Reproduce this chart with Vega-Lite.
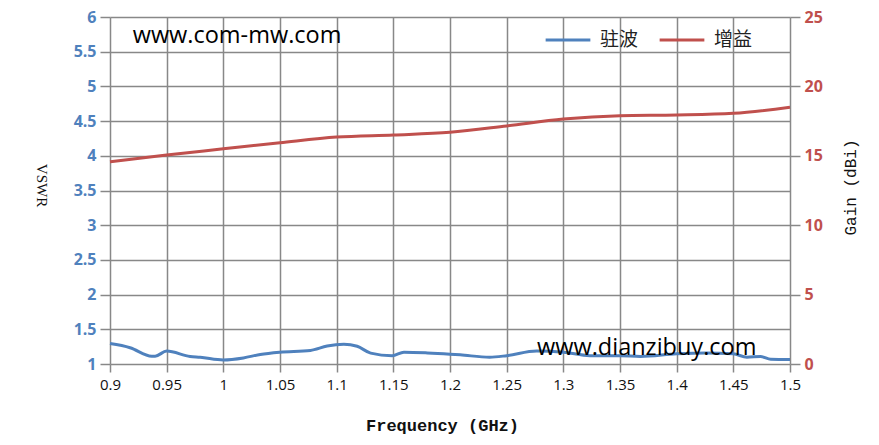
{
  "$schema": "https://vega.github.io/schema/vega-lite/v6.json",
  "autosize": {"type": "none"},
  "width": 680,
  "height": 347,
  "padding": {"left": 110, "top": 17, "right": 89, "bottom": 81},
  "background": "white",
  "config": {
    "view": {"stroke": null},
    "axis": {"gridColor": "#888888", "gridWidth": 1.5, "tickColor": "#888888", "tickWidth": 1.5, "domain": false}
  },
  "datasets": {
    "vswr": [
      {"f": 0.9, "v": 1.294, "s": "驻波"},
      {"f": 0.9177, "v": 1.235, "s": "驻波"},
      {"f": 0.9368, "v": 1.113, "s": "驻波"},
      {"f": 0.9398, "v": 1.113, "s": "驻波"},
      {"f": 0.95, "v": 1.186, "s": "驻波"},
      {"f": 0.9707, "v": 1.108, "s": "驻波"},
      {"f": 0.9796, "v": 1.098, "s": "驻波"},
      {"f": 1.0, "v": 1.059, "s": "驻波"},
      {"f": 1.0177, "v": 1.088, "s": "驻波"},
      {"f": 1.0326, "v": 1.137, "s": "驻波"},
      {"f": 1.05, "v": 1.17, "s": "驻波"},
      {"f": 1.0768, "v": 1.196, "s": "驻波"},
      {"f": 1.0916, "v": 1.26, "s": "驻波"},
      {"f": 1.1063, "v": 1.284, "s": "驻波"},
      {"f": 1.1181, "v": 1.255, "s": "驻波"},
      {"f": 1.13, "v": 1.157, "s": "驻波"},
      {"f": 1.149, "v": 1.12, "s": "驻波"},
      {"f": 1.1594, "v": 1.17, "s": "驻波"},
      {"f": 1.18, "v": 1.16, "s": "驻波"},
      {"f": 1.2, "v": 1.142, "s": "驻波"},
      {"f": 1.209, "v": 1.132, "s": "驻波"},
      {"f": 1.235, "v": 1.098, "s": "驻波"},
      {"f": 1.25, "v": 1.12, "s": "驻波"},
      {"f": 1.2765, "v": 1.186, "s": "驻波"},
      {"f": 1.3, "v": 1.17, "s": "驻波"},
      {"f": 1.3235, "v": 1.12, "s": "驻波"},
      {"f": 1.35, "v": 1.12, "s": "驻波"},
      {"f": 1.368, "v": 1.108, "s": "驻波"},
      {"f": 1.4, "v": 1.147, "s": "驻波"},
      {"f": 1.426, "v": 1.16, "s": "驻波"},
      {"f": 1.45, "v": 1.147, "s": "驻波"},
      {"f": 1.462, "v": 1.098, "s": "驻波"},
      {"f": 1.474, "v": 1.108, "s": "驻波"},
      {"f": 1.483, "v": 1.069, "s": "驻波"},
      {"f": 1.5, "v": 1.064, "s": "驻波"}
    ],
    "gain": [
      {"f": 0.9, "v": 14.57, "s": "增益"},
      {"f": 0.95, "v": 15.06, "s": "增益"},
      {"f": 1.0, "v": 15.5, "s": "增益"},
      {"f": 1.05, "v": 15.94, "s": "增益"},
      {"f": 1.1, "v": 16.35, "s": "增益"},
      {"f": 1.15, "v": 16.5, "s": "增益"},
      {"f": 1.2, "v": 16.69, "s": "增益"},
      {"f": 1.25, "v": 17.15, "s": "增益"},
      {"f": 1.3, "v": 17.65, "s": "增益"},
      {"f": 1.35, "v": 17.89, "s": "增益"},
      {"f": 1.4, "v": 17.94, "s": "增益"},
      {"f": 1.45, "v": 18.06, "s": "增益"},
      {"f": 1.5, "v": 18.5, "s": "增益"}
    ],
    "notes": [
      {"label": "www.com-mw.com", "f": 0.92, "v": 5.73},
      {"label": "www.dianzibuy.com", "f": 1.2768, "v": 1.23}
    ]
  },
  "encoding": {
    "x": {
      "field": "f", "type": "quantitative",
      "scale": {"domain": [0.9, 1.5], "nice": false, "zero": false},
      "axis": {
        "values": [0.9, 0.95, 1.0, 1.05, 1.1, 1.15, 1.2, 1.25, 1.3, 1.35, 1.4, 1.45, 1.5],
        "format": "~g",
        "title": "Frequency (GHz)",
        "titleFont": "Liberation Mono", "titleFontSize": 17, "titleFontWeight": "bold", "titleColor": "#111111",
        "titlePadding": 25, "titleX": 332,
        "labelFont": "Open Sans", "labelFontSize": 15, "labelColor": "#111111",
        "tickSize": 8, "labelPadding": 5, "labelFlush": false, "labelOverlap": false
      }
    }
  },
  "layer": [
    {
      "encoding": {
        "y": {
          "field": "v", "type": "quantitative",
          "scale": {"domain": [1, 6], "nice": false, "zero": false},
          "axis": {
            "orient": "left",
            "values": [1, 1.5, 2, 2.5, 3, 3.5, 4, 4.5, 5, 5.5, 6],
            "format": "~g",
            "title": "VSWR", "titleAngle": 90, "titleX": -69, "titleY": 168, "titleBaseline": "middle", "titleAlign": "center",
            "titleFont": "Liberation Serif", "titleFontSize": 15, "titleFontWeight": "normal", "titleColor": "#111111",
            "labelFont": "Open Sans", "labelFontSize": 16, "labelFontWeight": "bold", "labelColor": "#4f81bd",
            "tickSize": 10, "labelPadding": 4
          }
        }
      },
      "layer": [
        {
          "data": {"name": "vswr"},
          "mark": {"type": "line", "interpolate": "monotone", "strokeWidth": 3},
          "encoding": {
            "color": {
              "field": "s", "type": "nominal",
              "scale": {"domain": ["驻波", "增益"], "range": ["#4f81bd", "#c0504d"]},
              "legend": {
                "title": null, "orient": "none", "legendX": 434, "legendY": -1, "direction": "horizontal",
                "symbolType": "stroke", "symbolStrokeWidth": 3, "symbolSize": 2000,
                "labelFont": "Noto Sans CJK SC", "labelFontSize": 19, "labelColor": "#222222",
                "columnPadding": 14, "labelOffset": 8
              }
            }
          }
        },
        {
          "data": {"name": "notes"},
          "mark": {"type": "text", "align": "left", "baseline": "middle", "font": "Open Sans", "fontSize": 23.5, "color": "#000000"},
          "encoding": {
            "text": {"field": "label"}
          }
        }
      ]
    },
    {
      "data": {"name": "gain"},
      "mark": {"type": "line", "interpolate": "monotone", "strokeWidth": 3},
      "encoding": {
        "y": {
          "field": "v", "type": "quantitative",
          "scale": {"domain": [0, 25], "nice": false, "zero": false},
          "axis": {
            "orient": "right", "grid": false,
            "values": [0, 5, 10, 15, 20, 25],
            "title": "Gain (dBi)", "titleAngle": -90, "titleX": 60, "titleY": 170, "titleBaseline": "middle", "titleAlign": "center",
            "titleFont": "Liberation Mono", "titleFontSize": 16, "titleFontWeight": "normal", "titleColor": "#111111",
            "labelFont": "Open Sans", "labelFontSize": 16, "labelFontWeight": "bold", "labelColor": "#c0504d",
            "tickSize": 10, "labelPadding": 4
          }
        },
        "color": {"field": "s", "type": "nominal"}
      }
    }
  ],
  "resolve": {"scale": {"y": "independent"}}
}
